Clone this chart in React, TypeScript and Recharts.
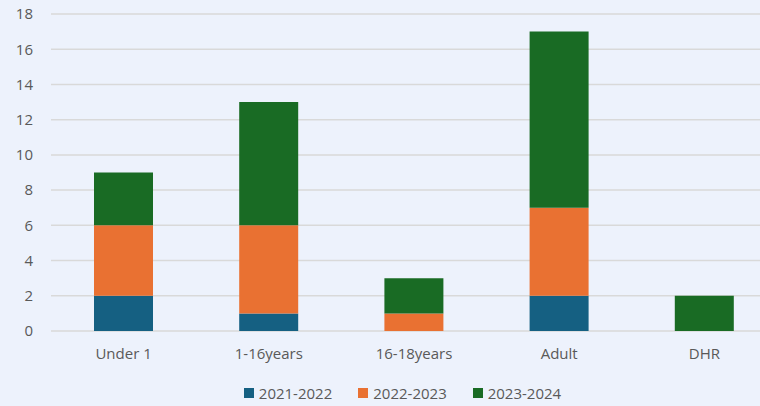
import React from 'react'
import { BarChart, Bar, XAxis, YAxis, CartesianGrid, Legend } from 'recharts'

const categories = ['Under 1', '1-16years', '16-18years', 'Adult', 'DHR']
const s2021 = [2, 1, 0, 2, 0]
const s2022 = [4, 5, 1, 5, 0]
const s2023 = [3, 7, 2, 10, 2]
const yTicks = [0, 2, 4, 6, 8, 10, 12, 14, 16, 18]

const series = [
  { key: 'a', name: '2021-2022', color: '#156082' },
  { key: 'b', name: '2022-2023', color: '#E97132' },
  { key: 'c', name: '2023-2024', color: '#196B24' },
]

const data = categories.map((c, i) => ({ cat: c, a: s2021[i], b: s2022[i], c: s2023[i] }))

const font = 'Open Sans, Inter, sans-serif'

function LegendBox() {
  return (
    <div style={{ display: 'flex', justifyContent: 'center', gap: 26, paddingLeft: 28, fontFamily: font, fontSize: 15, color: '#595959' }}>
      {series.map(s => (
        <div key={s.key} style={{ display: 'flex', alignItems: 'center' }}>
          <span style={{ width: 10, height: 10, background: s.color, display: 'inline-block', marginRight: 5 }} />
          <span>{s.name}</span>
        </div>
      ))}
    </div>
  )
}

export default function App() {
  return (
    <div style={{ position: 'fixed', left: 0, top: 0, width: 760, height: 406, overflow: 'hidden', background: '#EDF2FC' }}>
      <BarChart width={800} height={406} data={data} margin={{ top: 14, right: 23, bottom: 0, left: 0 }} barSize={59}>
        <CartesianGrid vertical={false} stroke="#D9D9D9" strokeWidth={1.5} />
        <XAxis dataKey="cat" axisLine={false} tickLine={false} tickSize={0} tickMargin={17}
          tick={{ fill: '#595959', fontSize: 15, fontFamily: font }} height={55} />
        <YAxis width={51} domain={[0, 18]} ticks={yTicks} axisLine={false} tickLine={false} tickSize={0} tickMargin={18}
          tick={{ fill: '#595959', fontSize: 15, fontFamily: font }} />
        <Legend verticalAlign="bottom" content={<LegendBox />} wrapperStyle={{ bottom: 3 }} />
        {series.map(s => (
          <Bar key={s.key} dataKey={s.key} name={s.name} stackId="s" fill={s.color} isAnimationActive={false} />
        ))}
      </BarChart>
    </div>
  )
}
